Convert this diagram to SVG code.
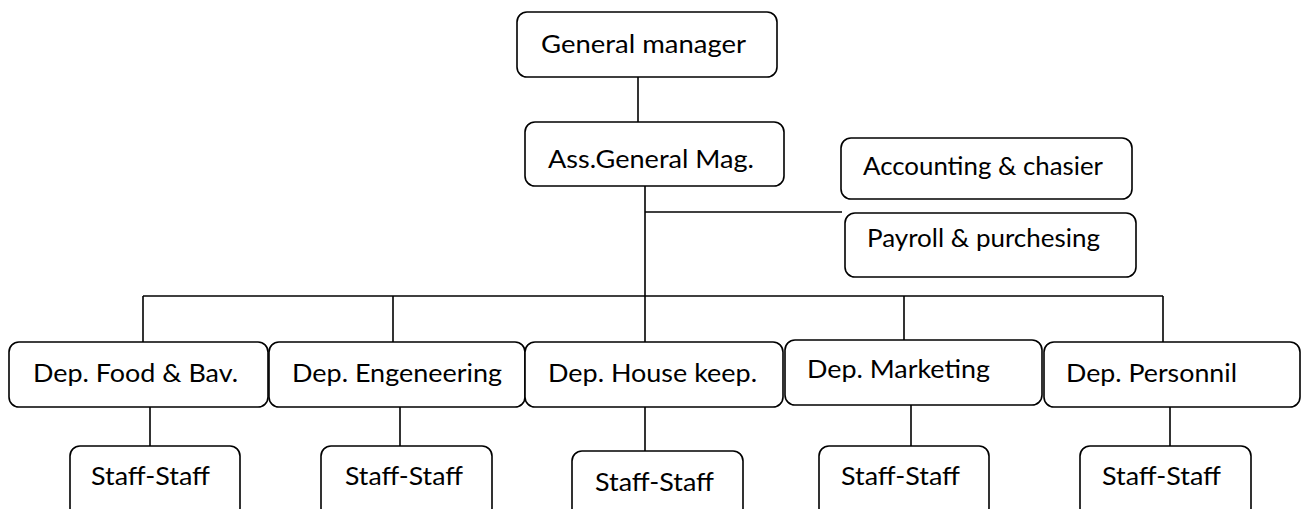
<svg xmlns="http://www.w3.org/2000/svg" width="1303" height="509" viewBox="0 0 1303 509">
<style>
.b{fill:#fff;stroke:#000;stroke-width:1.6}
.t{font-family:Lato,"Liberation Sans",sans-serif;font-size:25px;fill:#000}
.c{stroke:#000;stroke-width:1.6;fill:none}
</style>
<rect width="1303" height="509" fill="#fff"/>
<g id="connectors" class="c">
<line x1="638" y1="77" x2="638" y2="122"/>
<line x1="645" y1="186" x2="645" y2="342"/>
<line x1="645" y1="212" x2="842" y2="212"/>
<line x1="143" y1="296" x2="1163" y2="296"/>
<line x1="143" y1="296" x2="143" y2="342"/>
<line x1="393" y1="296" x2="393" y2="342"/>
<line x1="904" y1="296" x2="904" y2="340"/>
<line x1="1163" y1="296" x2="1163" y2="342"/>
<line x1="150" y1="402" x2="150" y2="446"/>
<line x1="400" y1="402" x2="400" y2="446"/>
<line x1="645" y1="407" x2="645" y2="451"/>
<line x1="911" y1="400" x2="911" y2="446"/>
<line x1="1170" y1="402" x2="1170" y2="446"/>
</g>
<g id="gm"><rect class="b" x="517" y="12" width="260" height="65" rx="10"/><text class="t" x="541" y="53" textLength="205" lengthAdjust="spacingAndGlyphs">General manager</text></g>
<g id="agm"><rect class="b" x="525" y="122" width="259" height="64" rx="10"/><text class="t" x="548" y="168" textLength="206" lengthAdjust="spacingAndGlyphs">Ass.General Mag.</text></g>
<g id="acc"><rect class="b" x="841" y="138" width="291" height="61" rx="10"/><text class="t" x="863" y="175" textLength="240" lengthAdjust="spacingAndGlyphs">Accounting &amp; chasier</text></g>
<g id="pay"><rect class="b" x="845" y="213" width="291" height="64" rx="10"/><text class="t" x="867" y="247" textLength="233" lengthAdjust="spacingAndGlyphs">Payroll &amp; purchesing</text></g>
<g id="dep-food"><rect class="b" x="9" y="342" width="259" height="65" rx="10"/><text class="t" x="33" y="382" textLength="205" lengthAdjust="spacingAndGlyphs">Dep. Food &amp; Bav.</text></g>
<g id="dep-eng"><rect class="b" x="269" y="342" width="256" height="65" rx="10"/><text class="t" x="292" y="382" textLength="210" lengthAdjust="spacingAndGlyphs">Dep. Engeneering</text></g>
<g id="dep-house"><rect class="b" x="525" y="342" width="258" height="65" rx="10"/><text class="t" x="548" y="382" textLength="209" lengthAdjust="spacingAndGlyphs">Dep. House keep.</text></g>
<g id="dep-mkt"><rect class="b" x="785" y="340" width="257" height="65" rx="10"/><text class="t" x="807" y="378" textLength="183" lengthAdjust="spacingAndGlyphs">Dep. Marketing</text></g>
<g id="dep-pers"><rect class="b" x="1044" y="342" width="256" height="65" rx="10"/><text class="t" x="1066" y="382" textLength="171" lengthAdjust="spacingAndGlyphs">Dep. Personnil</text></g>
<g id="staff-food"><rect class="b" x="70" y="446" width="170" height="72" rx="10"/><text class="t" x="91" y="485" textLength="119" lengthAdjust="spacingAndGlyphs">Staff-Staff</text></g>
<g id="staff-eng"><rect class="b" x="321" y="446" width="171" height="72" rx="10"/><text class="t" x="345" y="485" textLength="118" lengthAdjust="spacingAndGlyphs">Staff-Staff</text></g>
<g id="staff-house"><rect class="b" x="572" y="451" width="171" height="72" rx="10"/><text class="t" x="595" y="491" textLength="119" lengthAdjust="spacingAndGlyphs">Staff-Staff</text></g>
<g id="staff-mkt"><rect class="b" x="819" y="446" width="170" height="72" rx="10"/><text class="t" x="841" y="485" textLength="119" lengthAdjust="spacingAndGlyphs">Staff-Staff</text></g>
<g id="staff-pers"><rect class="b" x="1080" y="446" width="171" height="72" rx="10"/><text class="t" x="1102" y="485" textLength="119" lengthAdjust="spacingAndGlyphs">Staff-Staff</text></g>
</svg>
